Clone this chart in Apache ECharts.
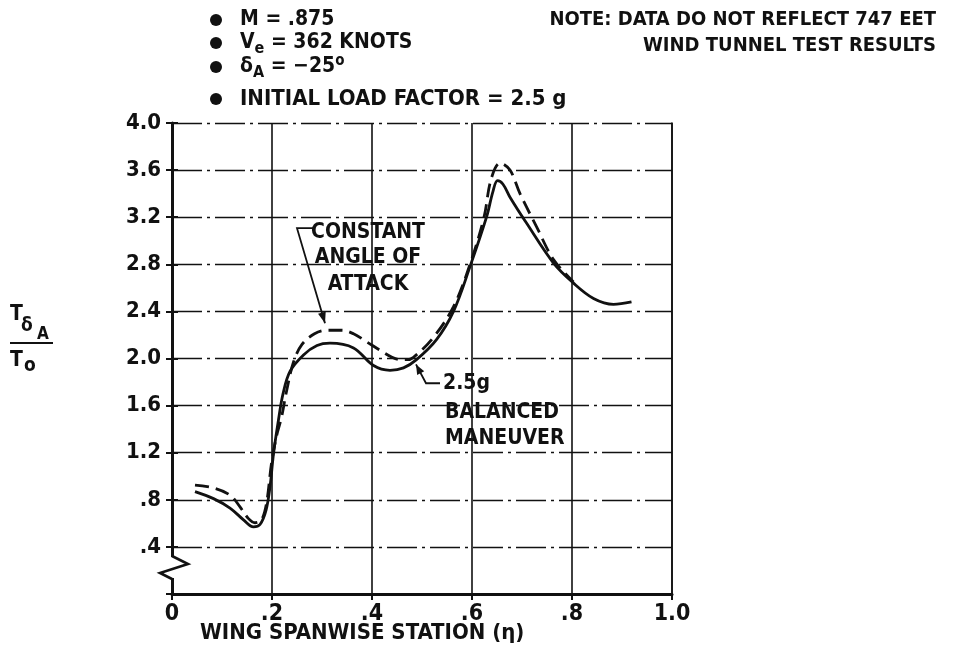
<!DOCTYPE html>
<html>
<head>
<meta charset="utf-8">
<script src="https://cdn.jsdelivr.net/npm/echarts@6/dist/echarts.min.js"></script>
<style>
  html, body { margin: 0; padding: 0; background: #fff; }
  #main { width: 956px; height: 658px; }
</style>
</head>
<body>
<div id="main"></div>
<script>
var FONT = "'Liberation Sans Narrow', 'DejaVu Sans Condensed', 'Arial Narrow', sans-serif";
var INK = '#111';

// 2.5g balanced maneuver (solid)
var etaBalanced   = [0.046, 0.083, 0.116, 0.143, 0.163, 0.176, 0.188, 0.196, 0.203, 0.213, 0.222, 0.236, 0.263, 0.290, 0.316, 0.363, 0.403, 0.436, 0.463, 0.489, 0.529, 0.563, 0.596, 0.629, 0.642, 0.651, 0.662, 0.676, 0.709, 0.763, 0.803, 0.843, 0.883, 0.919];
var ratioBalanced = [0.87, 0.81, 0.73, 0.63, 0.57, 0.59, 0.71, 0.91, 1.19, 1.48, 1.70, 1.89, 2.03, 2.11, 2.13, 2.09, 1.94, 1.90, 1.92, 1.99, 2.16, 2.40, 2.78, 3.20, 3.42, 3.51, 3.48, 3.37, 3.15, 2.81, 2.64, 2.51, 2.46, 2.48];

// constant angle of attack (dashed)
var etaConstAlpha   = [0.046, 0.083, 0.116, 0.136, 0.153, 0.166, 0.179, 0.189, 0.199, 0.209, 0.219, 0.229, 0.243, 0.260, 0.285, 0.309, 0.340, 0.363, 0.390, 0.416, 0.440, 0.456, 0.470, 0.483, 0.523, 0.563, 0.596, 0.624, 0.638, 0.656, 0.676, 0.696, 0.729, 0.763, 0.803];
var ratioConstAlpha = [0.925, 0.90, 0.84, 0.74, 0.64, 0.605, 0.63, 0.77, 1.11, 1.34, 1.50, 1.72, 1.97, 2.12, 2.21, 2.24, 2.24, 2.21, 2.14, 2.07, 2.01, 1.99, 1.99, 2.01, 2.18, 2.44, 2.80, 3.20, 3.52, 3.66, 3.60, 3.40, 3.12, 2.84, 2.65];

var xTickLabels = ['0', '.2', '.4', '.6', '.8', '1.0'];
var yTickLabels = ['', '.4', '.8', '1.2', '1.6', '2.0', '2.4', '2.8', '3.2', '3.6', '4.0'];

function zip(xs, ys) {
  return xs.map(function (x, i) { return [x, ys[i]]; });
}

var chart = echarts.init(document.getElementById('main'));

var option = {
  animation: false,
  backgroundColor: '#fff',
  grid: { left: 172, right: 284, top: 123, bottom: 64, containLabel: false },
  xAxis: [{
    type: 'value', min: 0, max: 1, interval: 0.2,
    axisLine: { lineStyle: { color: INK, width: 3 } },
    axisTick: { length: 6, lineStyle: { color: INK, width: 2 } },
    axisLabel: {
      margin: 9, color: INK, fontFamily: FONT, fontSize: 23, fontWeight: 'bold',
      formatter: function (v) { return xTickLabels[Math.round(v / 0.2)]; }
    },
    splitLine: { show: true, lineStyle: { color: INK, width: 1.6 } }
  }, {
    type: 'value', min: 0, max: 1, position: 'top',
    axisLine: { lineStyle: { color: INK, width: 1.6 } },
    axisTick: { show: false }, axisLabel: { show: false }, splitLine: { show: false }
  }],
  yAxis: [{
    type: 'value', min: 0, max: 4, interval: 0.4,
    axisLine: { lineStyle: { color: INK, width: 3 } },
    axisTick: { length: 6, lineStyle: { color: INK, width: 2 } },
    axisLabel: {
      margin: 11, color: INK, fontFamily: FONT, fontSize: 22, fontWeight: 'bold',
      formatter: function (v) { return yTickLabels[Math.round(v / 0.4)]; }
    },
    splitLine: { show: true, lineStyle: { color: INK, width: 1.3, type: [30, 5, 3, 5] } }
  }, {
    type: 'value', min: 0, max: 4, interval: 0.4, position: 'left',
    axisLine: { show: false },
    axisTick: { inside: true, length: 6, lineStyle: { color: INK, width: 2 } },
    axisLabel: { show: false }, splitLine: { show: false }
  }, {
    type: 'value', min: 0, max: 4, position: 'right',
    axisLine: { lineStyle: { color: INK, width: 1.6 } },
    axisTick: { show: false }, axisLabel: { show: false }, splitLine: { show: false }
  }],
  series: [{
    name: '2.5g BALANCED MANEUVER',
    type: 'line',
    data: zip(etaBalanced, ratioBalanced),
    smooth: 0.35,
    showSymbol: false,
    lineStyle: { color: INK, width: 2.8 },
    z: 5
  }, {
    name: 'CONSTANT ANGLE OF ATTACK',
    type: 'line',
    data: zip(etaConstAlpha, ratioConstAlpha),
    smooth: 0.35,
    showSymbol: false,
    lineStyle: { color: INK, width: 2.8, type: [14, 7] },
    z: 5
  }]
};

chart.setOption(option);

function px(x, y) {
  return chart.convertToPixel({ xAxisIndex: 0, yAxisIndex: 0 }, [x, y]);
}

function arrowHead(tip, from, len, half) {
  var dx = tip[0] - from[0], dy = tip[1] - from[1];
  var d = Math.sqrt(dx * dx + dy * dy);
  var ux = dx / d, uy = dy / d;
  var bx = tip[0] - ux * len, by = tip[1] - uy * len;
  return {
    type: 'polygon',
    shape: { points: [tip, [bx - uy * half, by + ux * half], [bx + uy * half, by - ux * half]] },
    style: { fill: INK },
    z: 20
  };
}

function label(text, x, y, size, align, extra) {
  var s = { text: text, x: x, y: y, fill: INK, font: 'bold ' + size + 'px ' + FONT,
            textAlign: align || 'left', textVerticalAlign: 'middle' };
  if (extra) { for (var k in extra) s[k] = extra[k]; }
  return { type: 'text', style: s, z: 20 };
}

var origin = px(0, 0);
var g = [];

// axis break on the y axis
g.push({ type: 'rect', shape: { x: origin[0] - 5, y: origin[1] - 37, width: 10, height: 21 },
         style: { fill: '#fff' }, z: 15 });
g.push({ type: 'polyline',
         shape: { points: [[origin[0], origin[1] - 38], [origin[0] + 16, origin[1] - 30],
                           [origin[0] - 12, origin[1] - 21], [origin[0], origin[1] - 15]] },
         style: { stroke: INK, lineWidth: 2.6, fill: null }, z: 16 });

// CONSTANT ANGLE OF ATTACK callout
var c1 = px(0.282, 3.107), c2 = px(0.25, 3.107), c3 = px(0.306, 2.30);
g.push({ type: 'polyline', shape: { points: [c1, c2, c3] },
         style: { stroke: INK, lineWidth: 1.8, fill: null }, z: 20 });
g.push(arrowHead(c3, c2, 11, 4));
var t1 = px(0.392, 3.07), t2 = px(0.392, 2.855), t3 = px(0.392, 2.63);
g.push(label('CONSTANT', t1[0], t1[1], 21, 'center'));
g.push(label('ANGLE OF', t2[0], t2[1], 21, 'center'));
g.push(label('ATTACK', t3[0], t3[1], 21, 'center'));

// 2.5g BALANCED MANEUVER callout
var b1 = px(0.536, 1.79), b2 = px(0.508, 1.79), b3 = px(0.488, 1.95);
g.push({ type: 'polyline', shape: { points: [b1, b2, b3] },
         style: { stroke: INK, lineWidth: 1.8, fill: null }, z: 20 });
g.push(arrowHead(b3, b2, 10, 4));
var u1 = px(0.542, 1.79), u2 = px(0.546, 1.545), u3 = px(0.546, 1.324);
g.push(label('2.5g', u1[0], u1[1], 21, 'left'));
g.push(label('BALANCED', u2[0], u2[1], 21, 'left'));
g.push(label('MANEUVER', u3[0], u3[1], 21, 'left'));

// x axis title
g.push(label('WING SPANWISE STATION (\u03b7)', 200, 633, 22, 'left'));

// y axis title: T_deltaA / T_o
g.push(label('T', 10, 315, 21, 'left'));
g.push(label('\u03b4', 21, 326, 19, 'left'));
g.push(label('A', 37, 335, 17, 'left'));
g.push({ type: 'line', shape: { x1: 10, y1: 343, x2: 53, y2: 343 },
         style: { stroke: INK, lineWidth: 2 }, z: 20 });
g.push(label('T', 10, 361, 21, 'left'));
g.push(label('o', 24, 366, 19, 'left'));

// conditions block
var rows = [20, 43, 67, 99];
rows.forEach(function (y) {
  g.push({ type: 'circle', shape: { cx: 216, cy: y, r: 6 }, style: { fill: INK }, z: 20 });
});
var rich = {
  m: { font: 'bold 21px ' + FONT, fill: INK },
  sub: { font: 'bold 16px ' + FONT, fill: INK, padding: [12, 0, 0, 0] },
  sup: { font: 'bold 15px ' + FONT, fill: INK, padding: [0, 0, 12, 0] },
  big: { font: 'bold 22px ' + FONT, fill: INK }
};
g.push(label('{m|M = .875}', 240, rows[0], 21, 'left', { rich: rich }));
g.push(label('{m|V}{sub|e}{m| = 362 KNOTS}', 240, rows[1], 21, 'left', { rich: rich }));
g.push(label('{m|\u03b4}{sub|A}{m| = \u221225}{sup|o}', 240, rows[2], 21, 'left', { rich: rich }));
g.push(label('{big|INITIAL LOAD FACTOR = 2.5 g}', 240, rows[3], 22, 'left', { rich: rich }));

// note
g.push(label('NOTE: DATA DO NOT REFLECT 747 EET', 936, 20, 20, 'right'));
g.push(label('WIND TUNNEL TEST RESULTS', 936, 46, 20, 'right'));

chart.setOption({ graphic: g });
</script>
</body>
</html>
